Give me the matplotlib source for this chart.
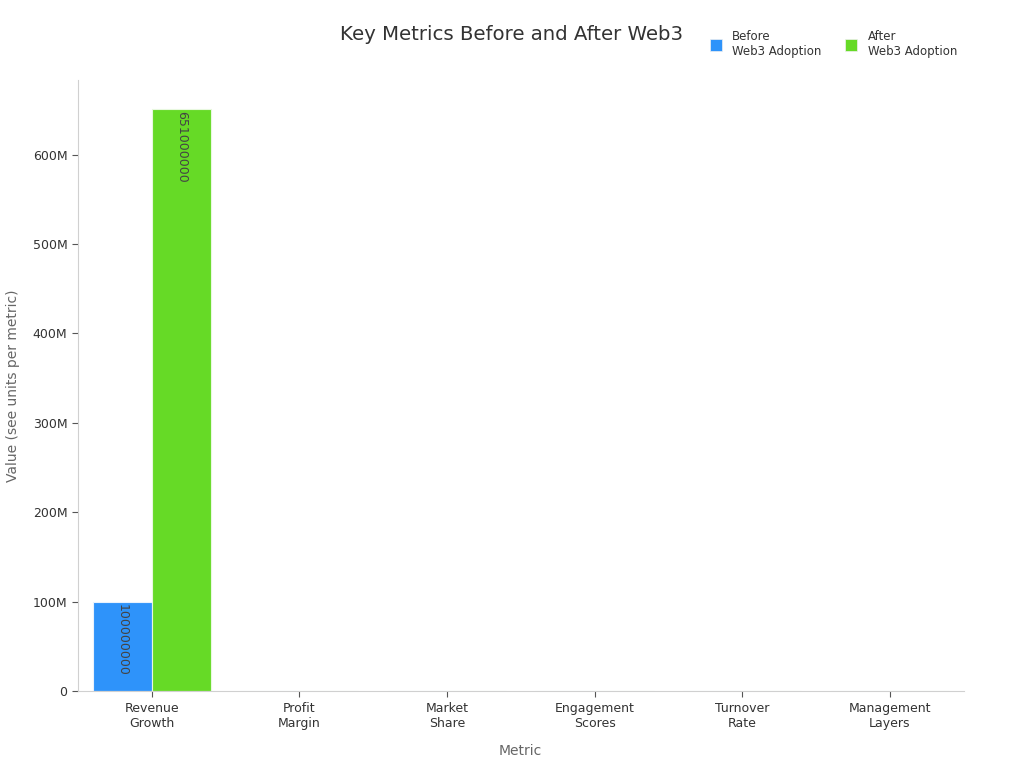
import matplotlib.pyplot as plt
from matplotlib.ticker import FuncFormatter
from matplotlib.lines import Line2D
import numpy as np

metrics = ["Revenue\nGrowth", "Profit\nMargin", "Market\nShare",
           "Engagement\nScores", "Turnover\nRate", "Management\nLayers"]
before = [100000000, 10, 5, 60, 20, 5]
after = [651000000, 25, 12, 85, 10, 3]
series_names = ["Before\nWeb3 Adoption", "After\nWeb3 Adoption"]

blue = "#2E93FA"
green = "#66DA26"

fig = plt.figure(figsize=(10.24, 7.68), dpi=100)
ax = fig.add_axes([0.076, 0.1, 0.865, 0.796])

x = np.arange(len(metrics))
w = 0.4
b1 = ax.bar(x - w / 2, before, w, color=blue, edgecolor="#e8f2fe", linewidth=0.8)
b2 = ax.bar(x + w / 2, after, w, color=green, edgecolor="#e8f8df", linewidth=0.8)

ymax = max(after) * 1.05
for bars, vals in [(b1, before), (b2, after)]:
    for r, v in zip(bars, vals):
        if v > ymax * 0.05:
            ax.text(r.get_x() + r.get_width() / 2, v - ymax * 0.004, str(v),
                    rotation=270, ha="center", va="top", fontsize=9, color="#444444")

ax.set_xlim(-0.5, len(metrics) - 0.5)
ax.set_ylim(0, ymax)
ax.set_xticks(x)
ax.set_xticklabels(metrics, fontsize=9, color="#333333")
ax.yaxis.set_major_formatter(FuncFormatter(lambda v, p: "0" if v == 0 else f"{int(v / 1e6)}M"))
ax.set_yticks(np.arange(0, 700e6, 100e6))
ax.tick_params(axis="y", labelsize=9, labelcolor="#333333", color="#555555", length=4)
ax.tick_params(axis="x", color="#555555", length=4)

for s in ["top", "right"]:
    ax.spines[s].set_visible(False)
for s in ["left", "bottom"]:
    ax.spines[s].set_color("#d0d0d0")

ax.set_xlabel("Metric", fontsize=10, color="#666666", labelpad=10)
ax.set_ylabel("Value (see units per metric)", fontsize=10, color="#666666", labelpad=9)

fig.suptitle("Key Metrics Before and After Web3", x=0.5, y=0.968, fontsize=14.2, color="#333333")

handles = [Line2D([], [], marker="s", linestyle="none", markersize=9,
                  markerfacecolor=c, markeredgecolor="#f0f0f0", markeredgewidth=0.5)
           for c in [blue, green]]
fig.legend(handles, series_names, loc="upper right", bbox_to_anchor=(0.945, 0.975),
           ncol=2, frameon=False, fontsize=8.5, handlelength=1.0, handletextpad=0.9,
           columnspacing=2.0, labelcolor="#333333")

fig.savefig("out.png", dpi=100)
